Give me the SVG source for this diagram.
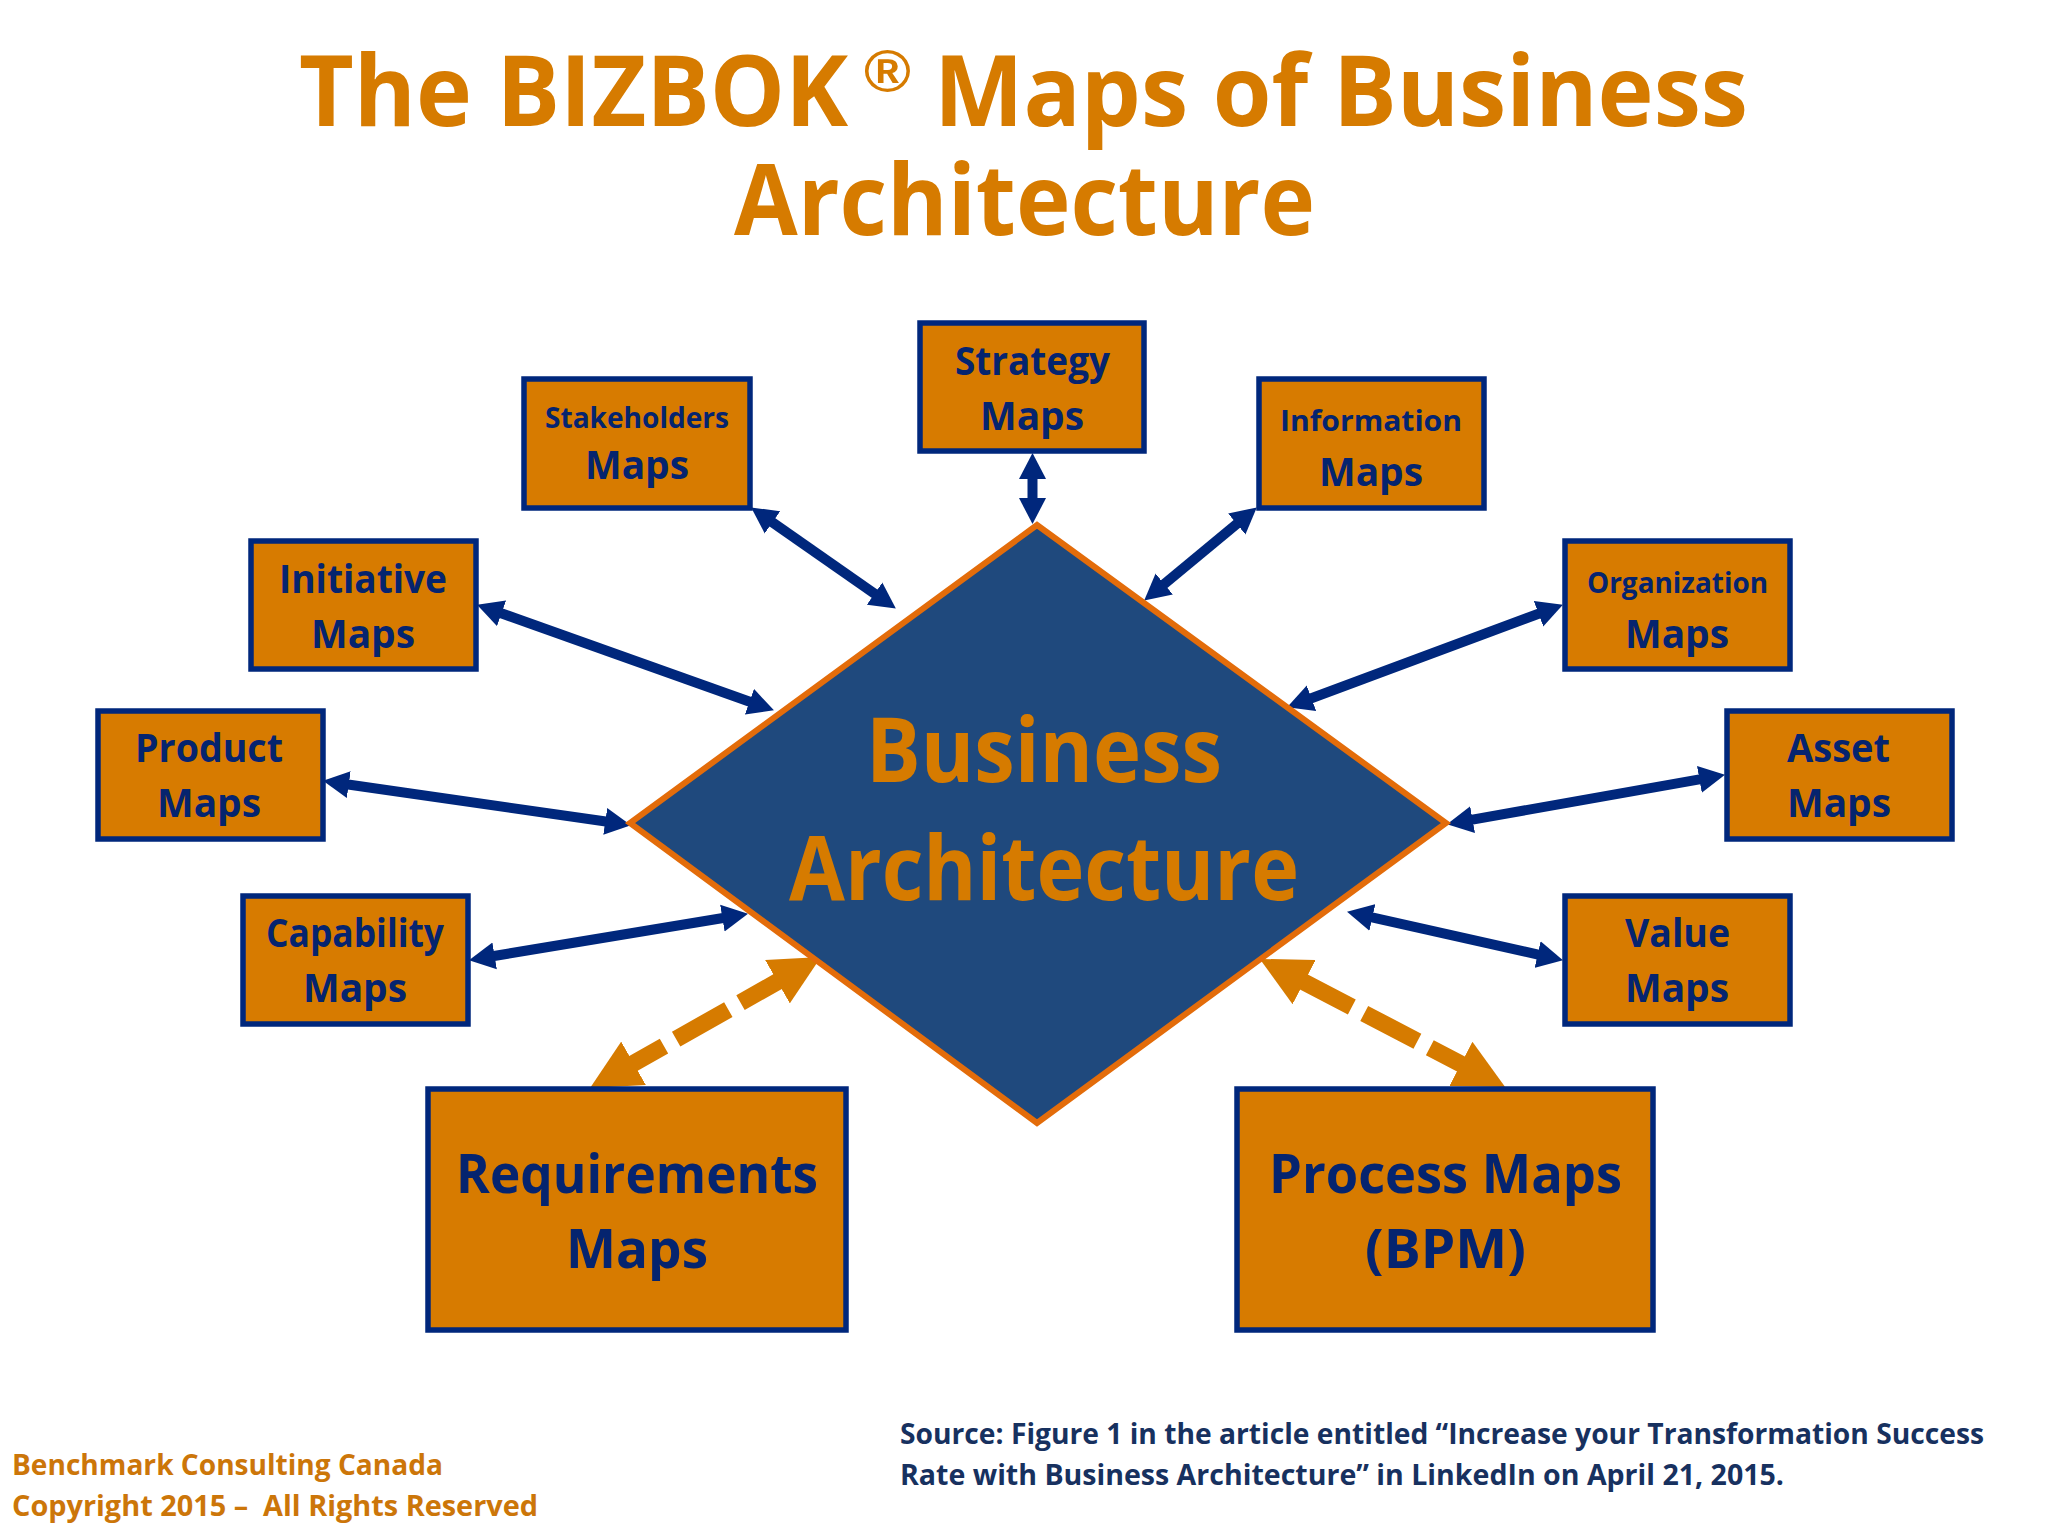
<svg xmlns="http://www.w3.org/2000/svg" width="2048" height="1536" viewBox="0 0 2048 1536">
<style>
text{font-family:"Open Sans","Noto Sans","Liberation Sans",sans-serif;font-weight:700;white-space:pre}
.box{fill:#d77b00;stroke:#00277c;stroke-width:5.5}
.navy{fill:#05246f}
.title{fill:#d67b00;font-size:99px}
.reg{font-family:"Liberation Sans",sans-serif;font-size:60px;font-style:italic;font-weight:700}
.s28{font-size:28px}.s39{font-size:39px}.big{font-size:54px}
.link{stroke:#00277c;stroke-width:10;fill:none;marker-start:url(#hn);marker-end:url(#hn)}
.dash{stroke:#d67b00;stroke-width:17;fill:none;stroke-dasharray:60 14;marker-start:url(#ho);marker-end:url(#ho)}
.foot{fill:#cc7609;font-size:28px}
.src{fill:#17315f;font-size:28px}
</style>
<defs>
<marker id="hn" markerUnits="userSpaceOnUse" viewBox="0 0 24 25" markerWidth="26" markerHeight="28" refX="12" refY="12.5" orient="auto-start-reverse"><polygon points="0,0 24,12.5 0,25" fill="#00277c"/></marker>
<marker id="ho" markerUnits="userSpaceOnUse" viewBox="0 0 50 50" markerWidth="50" markerHeight="50" refX="25" refY="25" orient="auto-start-reverse"><polygon points="0,0 50,25 0,50" fill="#d67b00"/></marker>
</defs>
<rect width="2048" height="1536" fill="#fff"/>
<g id="title">
<text class="title"><tspan x="299" y="126" textLength="549" lengthAdjust="spacingAndGlyphs">The BIZBOK</tspan><tspan class="reg" x="863" y="92" textLength="47" lengthAdjust="spacingAndGlyphs">®</tspan><tspan x="934" y="126" textLength="814" lengthAdjust="spacingAndGlyphs">Maps of Business</tspan><tspan x="734" y="235" textLength="581" lengthAdjust="spacingAndGlyphs">Architecture</tspan></text>
</g>
<g id="connectors">
<line class="link" x1="1032.5" y1="466" x2="1032.5" y2="511"/>
<line class="link" x1="761.8" y1="514.9" x2="885.2" y2="601.1"/>
<line class="link" x1="1246.8" y1="515.7" x2="1154.2" y2="592.3"/>
<line class="link" x1="489.3" y1="609" x2="761.7" y2="706"/>
<line class="link" x1="1550.7" y1="609.2" x2="1299.3" y2="702.8"/>
<line class="link" x1="335.9" y1="782.7" x2="618.1" y2="823.3"/>
<line class="link" x1="1712.2" y1="777.1" x2="1459.8" y2="821.9"/>
<line class="link" x1="481.8" y1="958" x2="735.2" y2="916"/>
<line class="link" x1="1550.3" y1="957.4" x2="1359.7" y2="914.6"/>
<line class="dash" x1="611.8" y1="1075.7" x2="799.2" y2="969.3"/>
<line class="dash" x1="1483" y1="1075.5" x2="1282" y2="970.5"/>
</g>
<g id="business-architecture">
<polygon points="1037,525 1446,823 1037,1123 630,823" fill="#1f497d" stroke="#e36c0a" stroke-width="6"/>
<text x="866" y="782" fill="#d67b00" font-size="89" textLength="356" lengthAdjust="spacingAndGlyphs">Business</text>
<text x="789" y="900" fill="#d67b00" font-size="89" textLength="510" lengthAdjust="spacingAndGlyphs">Architecture</text>
</g>
<g id="strategy-maps"><rect class="box" x="920" y="323" width="224" height="128"/>
<text class="navy s39" x="955" y="375" textLength="155" lengthAdjust="spacingAndGlyphs">Strategy</text>
<text class="navy s39" x="980" y="430" textLength="104" lengthAdjust="spacingAndGlyphs">Maps</text></g>
<g id="stakeholders-maps"><rect class="box" x="524" y="379" width="226" height="129"/>
<text class="navy s28" x="545" y="428" textLength="184" lengthAdjust="spacingAndGlyphs">Stakeholders</text>
<text class="navy s39" x="585" y="479" textLength="104" lengthAdjust="spacingAndGlyphs">Maps</text></g>
<g id="information-maps"><rect class="box" x="1259" y="379" width="225" height="129"/>
<text class="navy s28" x="1280" y="431" textLength="182" lengthAdjust="spacingAndGlyphs">Information</text>
<text class="navy s39" x="1319" y="486" textLength="104" lengthAdjust="spacingAndGlyphs">Maps</text></g>
<g id="initiative-maps"><rect class="box" x="251" y="541" width="225" height="128"/>
<text class="navy s39" x="279" y="593" textLength="168" lengthAdjust="spacingAndGlyphs">Initiative</text>
<text class="navy s39" x="311" y="648" textLength="104" lengthAdjust="spacingAndGlyphs">Maps</text></g>
<g id="organization-maps"><rect class="box" x="1565" y="541" width="225" height="128"/>
<text class="navy s28" x="1587" y="593" textLength="181" lengthAdjust="spacingAndGlyphs">Organization</text>
<text class="navy s39" x="1625" y="648" textLength="104" lengthAdjust="spacingAndGlyphs">Maps</text></g>
<g id="product-maps"><rect class="box" x="98" y="711" width="225" height="128"/>
<text class="navy s39" x="135" y="762" textLength="148" lengthAdjust="spacingAndGlyphs">Product</text>
<text class="navy s39" x="157" y="817" textLength="104" lengthAdjust="spacingAndGlyphs">Maps</text></g>
<g id="asset-maps"><rect class="box" x="1727" y="711" width="225" height="128"/>
<text class="navy s39" x="1787" y="762" textLength="103" lengthAdjust="spacingAndGlyphs">Asset</text>
<text class="navy s39" x="1787" y="817" textLength="104" lengthAdjust="spacingAndGlyphs">Maps</text></g>
<g id="capability-maps"><rect class="box" x="243" y="896" width="225" height="128"/>
<text class="navy s39" x="266" y="947" textLength="178" lengthAdjust="spacingAndGlyphs">Capability</text>
<text class="navy s39" x="303" y="1002" textLength="104" lengthAdjust="spacingAndGlyphs">Maps</text></g>
<g id="value-maps"><rect class="box" x="1565" y="896" width="225" height="128"/>
<text class="navy s39" x="1625" y="947" textLength="105" lengthAdjust="spacingAndGlyphs">Value</text>
<text class="navy s39" x="1625" y="1002" textLength="104" lengthAdjust="spacingAndGlyphs">Maps</text></g>
<g id="requirements-maps"><rect class="box" x="428" y="1089" width="418" height="241"/>
<text class="navy big" x="456" y="1193" textLength="362" lengthAdjust="spacingAndGlyphs">Requirements</text>
<text class="navy big" x="566" y="1268" textLength="142" lengthAdjust="spacingAndGlyphs">Maps</text></g>
<g id="process-maps"><rect class="box" x="1237" y="1089" width="416" height="241"/>
<text class="navy big" x="1269" y="1193" textLength="353" lengthAdjust="spacingAndGlyphs">Process Maps</text>
<text class="navy big" x="1365" y="1268" textLength="161" lengthAdjust="spacingAndGlyphs">(BPM)</text></g>
<g id="footer">
<text class="foot" x="12" y="1475" textLength="431" lengthAdjust="spacingAndGlyphs">Benchmark Consulting Canada</text>
<text class="foot" x="12" y="1516" textLength="526" lengthAdjust="spacingAndGlyphs">Copyright 2015 –  All Rights Reserved</text>
<text class="src" x="900" y="1444" textLength="1084" lengthAdjust="spacingAndGlyphs">Source: Figure 1 in the article entitled “Increase your Transformation Success</text>
<text class="src" x="900" y="1485" textLength="884" lengthAdjust="spacingAndGlyphs">Rate with Business Architecture” in LinkedIn on April 21, 2015.</text>
</g>
</svg>
